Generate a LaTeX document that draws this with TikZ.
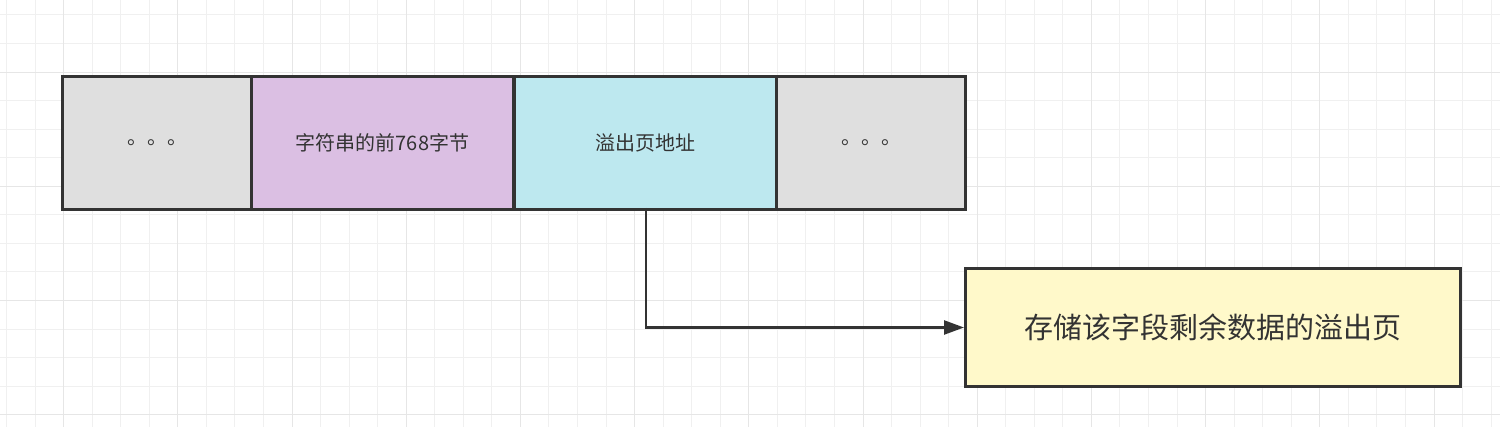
\documentclass[tikz,border=0pt]{standalone}
\usepackage{fontspec}
\newfontfamily\cjk{Noto Sans CJK SC}
\usetikzlibrary{arrows.meta}
\definecolor{gridminor}{HTML}{F0F0F0}
\definecolor{gridmajor}{HTML}{E6E6E6}
\definecolor{cgray}{HTML}{DFDFDF}
\definecolor{cpurple}{HTML}{DBBFE3}
\definecolor{ccyan}{HTML}{BDE8EF}
\definecolor{cyellow}{HTML}{FFF9CA}
\definecolor{cline}{HTML}{333333}
\tikzset{
  cell/.style={draw=cline, line width=3pt, minimum height=133pt, inner sep=0pt, font=\cjk\fontsize{20}{24}\selectfont, text=black!80, anchor=north west},
}
\begin{document}
\begin{tikzpicture}[x=1pt,y=-1pt]
\useasboundingbox (0,0) rectangle (1500,427);
\fill[white] (0,0) rectangle (1500,427);
\foreach \i in {0,...,53} {
  \draw[gridminor, line width=1pt] ({6.5+28.55*\i},0) -- ({6.5+28.55*\i},427);
}
\foreach \j in {0,...,15} {
  \draw[gridminor, line width=1pt] (0,{15+28.55*\j}) -- (1500,{15+28.55*\j});
}
\foreach \i in {0,...,13} {
  \draw[gridmajor, line width=1pt] ({63.6+114.2*\i},0) -- ({63.6+114.2*\i},427);
}
\foreach \j in {0,...,3} {
  \draw[gridmajor, line width=1pt] (0,{72.1+114.2*\j}) -- (1500,{72.1+114.2*\j});
}
\node[cell, fill=cgray, minimum width=189pt] (a) at (61,75) {。。。};
\node[cell, fill=cpurple, minimum width=262pt] (b) at (250,75) {字符串的前768字节};
\node[cell, fill=ccyan, minimum width=262pt] (c) at (513,75) {溢出页地址};
\node[cell, fill=cgray, minimum width=189pt] (d) at (775,75) {。。。};
\node[draw=cline, line width=3pt, fill=cyellow, minimum width=495pt, minimum height=118pt, inner sep=0pt, font=\cjk\fontsize{29}{34}\selectfont, text=black!80, anchor=north west] (e) at (964,267) {存储该字段剩余数据的溢出页};
\coordinate (s) at (646,208);
\draw[cline, line width=2.5pt, -{Triangle[length=20pt,width=14pt]}] (s) |- (e.west);
\end{tikzpicture}
\end{document}
